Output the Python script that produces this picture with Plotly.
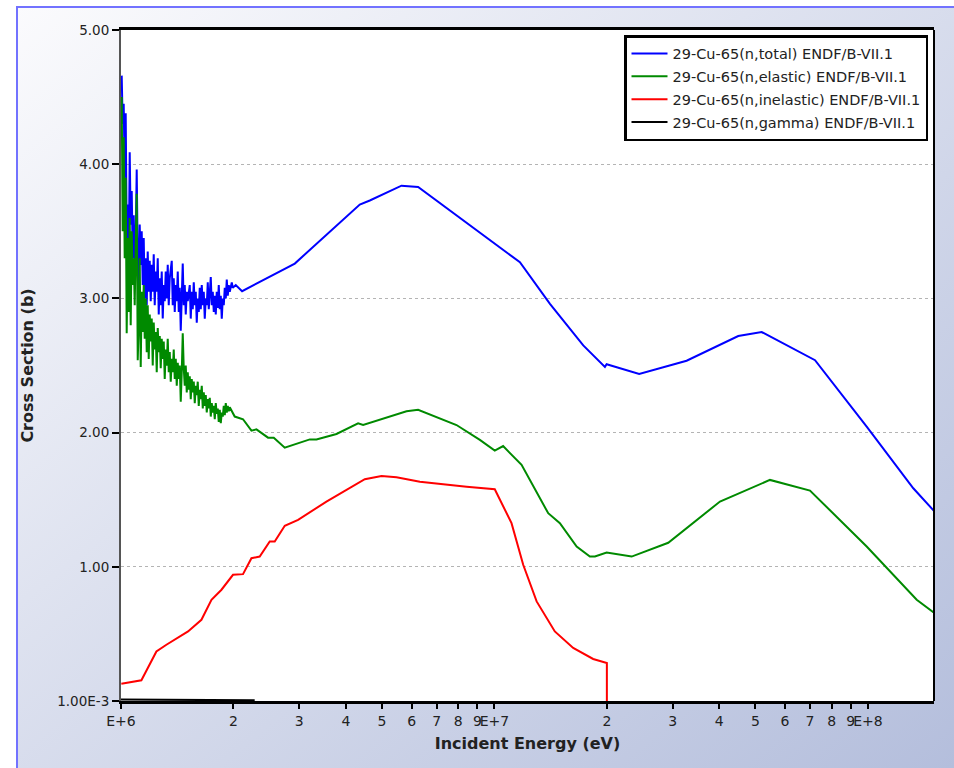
import base64
import plotly.graph_objects as go

# ---------------------------------------------------------------------------
# Cross-section data, 29-Cu-65, ENDF/B-VII.1 (energies in MeV, sigma in barns)
# ---------------------------------------------------------------------------
total_e = [
    1.0043, 1.0105, 1.0168, 1.0231, 1.0294, 1.0358, 1.0422, 1.0487, 1.0552, 1.0617,
    1.0683, 1.0749, 1.0816, 1.0882, 1.0950, 1.1017, 1.1086, 1.1154, 1.1223, 1.1293,
    1.1363, 1.1433, 1.1504, 1.1575, 1.1647, 1.1719, 1.1791, 1.1864, 1.1938, 1.2012,
    1.2086, 1.2161, 1.2236, 1.2312, 1.2388, 1.2465, 1.2542, 1.2620, 1.2698, 1.2776,
    1.2855, 1.2935, 1.3015, 1.3095, 1.3176, 1.3258, 1.3340, 1.3423, 1.3506, 1.3673,
    1.3758, 1.3843, 1.3929, 1.4015, 1.4102, 1.4189, 1.4277, 1.4365, 1.4454, 1.4543,
    1.4633, 1.4724, 1.4815, 1.4907, 1.4999, 1.5092, 1.5279, 1.5374, 1.5469, 1.5565,
    1.5661, 1.5758, 1.5856, 1.5954, 1.6052, 1.6152, 1.6252, 1.6352, 1.6453, 1.6555,
    1.6658, 1.6761, 1.6864, 1.6969, 1.7074, 1.7179, 1.7286, 1.7393, 1.7500, 1.7609,
    1.7718, 1.7827, 1.7937, 1.8048, 1.8160, 1.8272, 1.8385, 1.8499, 1.8614, 1.8729,
    1.8845, 1.8961, 1.9079, 1.9197, 1.9315, 1.9435, 1.9555, 1.9798, 1.9920, 2.029,
    2.110, 2.920, 4.359, 4.637, 5.637, 6.246, 11.70, 14.08, 17.29, 19.76,
    19.97, 24.41, 32.70, 44.96, 51.94, 72.18, 99.26, 132.3, 150.0,
]
total_xs = [
    4.66, 4.30, 4.45, 3.90, 4.38, 3.45, 3.70, 3.20, 4.09, 3.55,
    3.80, 3.30, 3.62, 3.15, 3.45, 3.96, 3.30, 3.05, 3.55, 3.25,
    3.50, 3.10, 3.45, 3.00, 3.30, 2.95, 3.35, 3.05, 3.28, 2.98,
    3.25, 3.05, 3.33, 2.95, 3.20, 3.05, 3.30, 2.88, 3.15, 2.95,
    3.20, 2.85, 3.10, 2.98, 3.20, 3.00, 3.25, 2.95, 3.15, 3.28,
    2.95, 3.15, 2.90, 3.10, 2.98, 3.20, 2.90, 3.08, 2.76, 3.05,
    3.26, 2.95, 3.10, 2.88, 3.05, 2.98, 3.10, 2.85, 3.05, 2.92,
    3.12, 2.95, 3.05, 2.82, 3.00, 2.90, 3.08, 2.92, 3.10, 2.95,
    3.05, 2.85, 3.00, 2.95, 3.12, 2.92, 3.05, 3.16, 2.95, 3.05,
    2.90, 3.02, 2.88, 3.05, 2.93, 3.10, 2.92, 3.02, 2.85, 3.00,
    2.95, 3.08, 3.00, 3.14, 3.02, 3.10, 3.05, 3.12, 3.08, 3.10,
    3.054, 3.26, 3.70, 3.73, 3.84, 3.83, 3.27, 2.96, 2.65, 2.49,
    2.51, 2.437, 2.536, 2.72, 2.75, 2.54, 2.045, 1.586, 1.42,
]

elastic_e = [
    1.0043, 1.0105, 1.0168, 1.0231, 1.0294, 1.0358, 1.0422, 1.0487, 1.0552, 1.0617,
    1.0683, 1.0749, 1.0816, 1.0882, 1.0950, 1.1017, 1.1086, 1.1154, 1.1223, 1.1293,
    1.1363, 1.1433, 1.1504, 1.1575, 1.1647, 1.1719, 1.1791, 1.1864, 1.1938, 1.2012,
    1.2086, 1.2161, 1.2236, 1.2312, 1.2388, 1.2465, 1.2542, 1.2620, 1.2698, 1.2776,
    1.2855, 1.2935, 1.3015, 1.3095, 1.3176, 1.3258, 1.3340, 1.3423, 1.3506, 1.3589,
    1.3673, 1.3758, 1.3843, 1.3929, 1.4015, 1.4102, 1.4189, 1.4277, 1.4365, 1.4454,
    1.4543, 1.4633, 1.4724, 1.4815, 1.4907, 1.4999, 1.5092, 1.5185, 1.5279, 1.5374,
    1.5469, 1.5565, 1.5661, 1.5758, 1.5856, 1.5954, 1.6052, 1.6152, 1.6252, 1.6352,
    1.6453, 1.6555, 1.6658, 1.6761, 1.6864, 1.6969, 1.7074, 1.7179, 1.7286, 1.7393,
    1.7500, 1.7609, 1.7718, 1.7827, 1.7937, 1.8048, 1.8160, 1.8272, 1.8385, 1.8499,
    1.8614, 1.8729, 1.8845, 1.8961, 1.9079, 1.9197, 1.9315, 1.9435, 1.9555,
    2.016, 2.122, 2.235, 2.305, 2.476, 2.565, 2.745, 3.203, 3.337, 3.776,
    4.314, 4.450, 5.815, 6.246, 7.914, 9.140, 10.02, 10.55, 11.82, 13.93,
    14.97, 16.60, 18.01, 18.58, 19.97, 23.30, 29.20, 40.17, 54.67, 69.97,
    99.26, 135.1, 150.0,
]
elastic_xs = [
    4.50, 3.50, 4.20, 3.30, 3.90, 2.74, 3.45, 2.90, 3.60, 2.80,
    3.50, 3.10, 3.30, 2.95, 3.40, 3.78, 2.54, 2.80, 3.30, 2.49,
    3.05, 2.75, 3.10, 2.70, 3.00, 2.60, 2.95, 2.55, 2.88, 2.68,
    2.85, 2.50, 2.82, 2.62, 2.75, 2.45, 2.78, 2.60, 2.72, 2.48,
    2.70, 2.55, 2.68, 2.40, 2.62, 2.50, 2.70, 2.45, 2.60, 2.38,
    2.55, 2.45, 2.62, 2.40, 2.55, 2.35, 2.52, 2.40, 2.50, 2.23,
    2.45, 2.74, 2.48, 2.35, 2.50, 2.30, 2.45, 2.32, 2.42, 2.25,
    2.40, 2.30, 2.38, 2.22, 2.35, 2.28, 2.38, 2.20, 2.32, 2.25,
    2.35, 2.18, 2.30, 2.20, 2.28, 2.15, 2.25, 2.18, 2.26, 2.12,
    2.22, 2.15, 2.20, 2.10, 2.22, 2.14, 2.18, 2.08, 2.17, 2.07,
    2.15, 2.12, 2.20, 2.13, 2.22, 2.15, 2.20, 2.16, 2.19,
    2.12, 2.10, 2.015, 2.025, 1.963, 1.963, 1.888, 1.95, 1.95, 1.99,
    2.07, 2.057, 2.16, 2.17, 2.057, 1.946, 1.866, 1.90, 1.76, 1.40,
    1.326, 1.152, 1.077, 1.077, 1.107, 1.077, 1.18, 1.487, 1.648, 1.569,
    1.152, 0.755, 0.66,
]

inelastic_e = [
    1.002, 1.134, 1.244, 1.323, 1.512, 1.642, 1.747, 1.858, 1.995, 2.122,
    2.235, 2.352, 2.502, 2.580, 2.745, 2.980, 3.549, 4.496, 4.984, 5.467,
    6.313, 7.141, 8.422, 10.02, 11.11, 11.94, 12.97, 14.51, 16.25, 18.38,
    20.0, 20.0,
]
inelastic_xs = [
    0.13, 0.155, 0.37, 0.42, 0.519, 0.606, 0.755, 0.83, 0.941, 0.946,
    1.065, 1.077, 1.189, 1.189, 1.306, 1.35, 1.487, 1.653, 1.678, 1.668,
    1.635, 1.618, 1.598, 1.579, 1.326, 1.016, 0.743, 0.519, 0.396, 0.314,
    0.284, 0.0,
]

gamma_e = [1.0, 1.2, 1.5, 1.9, 2.28]
gamma_xs = [0.012, 0.010, 0.008, 0.007, 0.006]

series = [
    ("29-Cu-65(n,total) ENDF/B-VII.1", total_e, total_xs, "#0000ff"),
    ("29-Cu-65(n,elastic) ENDF/B-VII.1", elastic_e, elastic_xs, "#008a00"),
    ("29-Cu-65(n,inelastic) ENDF/B-VII.1", inelastic_e, inelastic_xs, "#ff0000"),
    ("29-Cu-65(n,gamma) ENDF/B-VII.1", gamma_e, gamma_xs, "#000000"),
]

# Axis ticks: decades labelled "E+n", intermediate mantissas labelled 2..9
x_tick_vals = [m * 10 ** d for d in (6, 7) for m in range(1, 10)] + [1e8]
x_tick_text = (["E+6"] + [str(m) for m in range(2, 10)]
               + ["E+7"] + [str(m) for m in range(2, 10)] + ["E+8"])
x_decades = [1e6, 1e7, 1e8]
x_minors = [v for v in x_tick_vals if v not in x_decades]

y_tick_vals = [0.001, 1, 2, 3, 4, 5]
y_tick_text = ["1.00E-3", "1.00", "2.00", "3.00", "4.00", "5.00"]

FONT = "DejaVu Sans"

fig = go.Figure()
for i, (name, e_mev, xs, color) in enumerate(series):
    fig.add_trace(go.Scatter(
        x=[e * 1e6 for e in e_mev], y=xs, mode="lines", name=name,
        legendgroup=f"g{i}",
        line=dict(color=color, width=2),
    ))

# Page geometry (pixels)
FIG_W, FIG_H = 954, 768
L, R, T, B = 121, 20, 30, 67
PW, PH = FIG_W - L - R, FIG_H - T - B
PANEL_X, PANEL_Y = 16, 6          # top-left corner of the shaded panel

# Soft diagonal panel gradient, thin blue frame on its left/top edges,
# and a white backing behind the plotting area
W, H = FIG_W - PANEL_X, FIG_H - PANEL_Y
svg = (
    f'<svg xmlns="http://www.w3.org/2000/svg" width="{W}" height="{H}" '
    f'viewBox="0 0 {W} {H}" preserveAspectRatio="none">'
    '<defs><linearGradient id="g" x1="0" y1="0" x2="1" y2="1">'
    '<stop offset="0" stop-color="#fbfbfd"/>'
    '<stop offset="1" stop-color="#b4bedc"/>'
    '</linearGradient></defs>'
    f'<rect width="{W}" height="{H}" fill="url(#g)"/>'
    f'<rect x="{L - PANEL_X}" y="{T - PANEL_Y}" width="{PW}" height="{PH}" fill="#ffffff"/>'
    f'<path d="M1 {H} V1 H{W}" stroke="#7272ff" stroke-width="2" fill="none"/>'
    '</svg>'
)
bg_src = "data:image/svg+xml;base64," + base64.b64encode(svg.encode()).decode()

fig.update_layout(
    width=FIG_W, height=FIG_H,
    margin=dict(l=L, r=R, t=T, b=B, pad=0),
    paper_bgcolor="white",
    plot_bgcolor="white",
    font=dict(family=FONT, size=13, color="#222222"),
    images=[dict(
        source=bg_src, xref="paper", yref="paper",
        x=(PANEL_X - L) / PW, y=(FIG_H - B - PANEL_Y) / PH,
        sizex=W / PW, sizey=H / PH,
        xanchor="left", yanchor="top", sizing="stretch", layer="below",
    )],
    xaxis=dict(
        type="log", range=[6, 8.177],
        tickmode="array", tickvals=x_tick_vals, ticktext=x_tick_text,
        tickangle=0,
        ticks="outside", ticklen=5, tickwidth=2, tickcolor="black",
        tickfont=dict(family=FONT, size=14, color="#222222"),
        showline=True, linecolor="black", linewidth=2.5, mirror=True,
        showgrid=False, zeroline=False,
        title=dict(text="<b>Incident Energy (eV)</b>", standoff=11,
                   font=dict(family=FONT, size=16, color="#222222")),
    ),
    xaxis2=dict(
        type="log", range=[6, 8.177], overlaying="x", anchor="y", side="bottom",
        tickmode="array", tickvals=x_decades,
        ticks="inside", ticklen=6, tickwidth=2, tickcolor="black",
        showticklabels=False, showline=False, zeroline=False,
        showgrid=True, gridcolor="#b4b4b4", griddash="dot", gridwidth=1,
        minor=dict(tickmode="array", tickvals=x_minors, ticks="inside",
                   ticklen=3, tickwidth=2, tickcolor="black", showgrid=False),
    ),
    yaxis=dict(
        range=[0.001, 5],
        tickmode="array", tickvals=y_tick_vals, ticktext=y_tick_text,
        ticks="outside", ticklen=7, tickwidth=2, tickcolor="black",
        tickfont=dict(family=FONT, size=13.5, color="#222222"),
        showline=True, linecolor="#555555", linewidth=2,
        showgrid=True, gridcolor="#b4b4b4", griddash="dot", gridwidth=1,
        zeroline=False,
        title=dict(text="<b>Cross Section (b)</b>", standoff=20,
                   font=dict(family=FONT, size=16, color="#222222")),
    ),
    shapes=[dict(type="line", xref="paper", yref="paper",
                 x0=1, x1=1, y0=0, y1=1,
                 line=dict(color="black", width=2))],
    legend=dict(
        x=(928 - L) / PW, xanchor="right",
        y=(FIG_H - B - 35) / PH, yanchor="top",
        bgcolor="white", bordercolor="black", borderwidth=2.5,
        font=dict(family=FONT, size=14.5, color="#222222"),
        tracegroupgap=1, itemwidth=36,
    ),
    showlegend=True,
)

fig.write_html("out.html")
